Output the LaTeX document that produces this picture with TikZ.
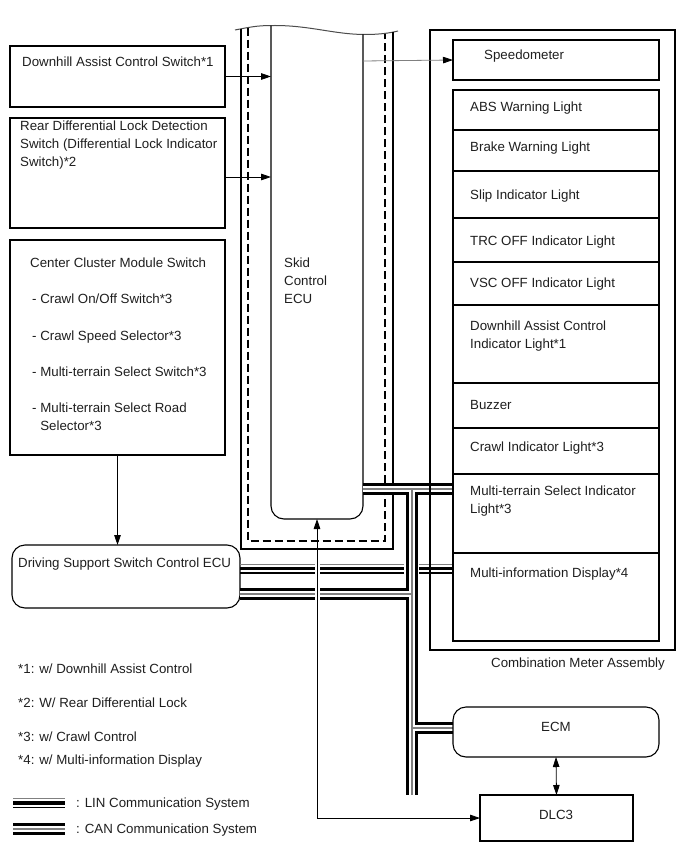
\documentclass[tikz,border=0pt]{standalone}
\usepackage{fontspec}
\setmainfont{Liberation Sans}
\usetikzlibrary{arrows.meta}
\newcommand\fs{\fontsize{13.3}{18}\selectfont}
\begin{document}
\begin{tikzpicture}[x=1pt,y=-1pt,
  box/.style={draw=black, line width=1.1pt, inner sep=0pt, outer sep=0pt, anchor=north west},
  rbox/.style={box, rounded corners=13pt},
  txt/.style={anchor=north west, inner sep=0pt, align=left, font=\fs, text=black!88},
  ctxt/.style={txt, anchor=north, align=center},
  arr/.style={line width=0.8pt, -{Triangle[length=10pt,width=6.5pt]}},
  darr/.style={line width=0.8pt, {Triangle[length=10pt,width=6.5pt]}-{Triangle[length=10pt,width=6.5pt]}},
  eculine/.style={line width=1.1pt},
]
\fill[white] (0,0) rectangle (689,853);
\useasboundingbox (0,0) rectangle (689,853);

% ---- Skid Control ECU (cut-away) ----
\draw[line width=1pt, black!70] (235,30) .. controls (255,26) and (260,25.5) .. (275,25.5)
   .. controls (310,25.5) and (335,34.5) .. (365,34.5) .. controls (380,34.5) and (390,33) .. (398,31);
\draw[eculine] (241,29) |- (393,549) -- (393,32);
\draw[eculine, dash pattern=on 8pt off 4pt] (248,27.6) |- (385,541) -- (385,33.6);
\draw[eculine, rounded corners=13pt] (271,25.6) |- (363,519) -- (363,34.5);
\coordinate (ecuL1) at (271,76.5);
\coordinate (ecuL2) at (271,177);
\coordinate (ecuR1) at (363,61);
\coordinate (ecuR2) at (363,489);
\coordinate (ecuB) at (317,519);
\node[txt] (skid) at (284,255) {\strut Skid\\Control\\ECU};

% ---- left boxes ----
\node[box, minimum width=215pt, minimum height=61pt] (b1) at (10,46) {};
\node[box, minimum width=215pt, minimum height=110pt] (b2) at (10,118) {};
\node[box, minimum width=215pt, minimum height=215pt] (b3) at (10,240) {};
\node[rbox, minimum width=228pt, minimum height=63pt] (dss) at (12,545) {};

\node[txt] (t1) at (22,54) {\strut Downhill Assist Control Switch*1};
\node[txt] (t2) at (20,118) {\strut Rear Differential Lock Detection\\Switch (Differential Lock Indicator\\Switch)*2};
\node[txt] (t3) at (30,255) {\strut Center Cluster Module Switch};
\node[txt] (t4) at (32,291) {\strut - Crawl On/Off Switch*3};
\node[txt] (t5) at (32,328) {\strut - Crawl Speed Selector*3};
\node[txt] (t6) at (32,364) {\strut - Multi-terrain Select Switch*3};
\node[txt] (t7) at (32,400) {\strut - Multi-terrain Select Road\\\phantom{- }Selector*3};
\node[txt] (t8) at (18,555) {\strut Driving Support Switch Control ECU};

% ---- buses ----
% LIN
\draw[gray, line width=1.3pt] (dss.east |- 0,564.5) -- (453,564.5);
\draw[black, line width=3.6pt] (dss.east |- 0,568.5) -- (453,568.5);
\draw[black, line width=1.2pt] (dss.east |- 0,573) -- (453,573);
\fill[white] (404,560) rectangle (419,577);
% CAN
\coordinate (j1) at (412,489);
\coordinate (j2) at (412,594);
\coordinate (j3) at (412,728);
\coordinate (jend) at (412,795);
\foreach \w/\c in {11.5/black,5.5/white,1.4/gray}
  \draw[line width=\w pt, draw=\c] (ecuR2) -- (453,489) (j1) -- (jend) (j2) -- (dss.east |- j2) (j3) -- (453,728);

% crossing gaps for the vertical link
\draw[white, line width=5pt] (317,559) -- (317,605);
\draw[darr] (ecuB) -- (317,818) -- (480,818);

% ---- Combination meter ----
\node[box, minimum width=245pt, minimum height=620pt] (meter) at (430,30) {};
\node[box, minimum width=206pt, minimum height=40pt] (speedo) at (453,40) {};
\node[txt] at (484,47) {\strut Speedometer};
\foreach \n/\a/\b in {abs/90/130, brake/130/171, slip/171/218, trc/218/262, vsc/262/305,
  dac/305/383, buzz/383/428, crawl/428/474, mts/474/553, mid/553/641}
  \node[box, minimum width=206pt, minimum height={(\b-\a)*1pt}] (\n) at (453,\a) {};
\node[txt] at (470,99) {\strut ABS Warning Light};
\node[txt] at (470,139) {\strut Brake Warning Light};
\node[txt] at (470,187) {\strut Slip Indicator Light};
\node[txt] at (470,233) {\strut TRC OFF Indicator Light};
\node[txt] at (470,275) {\strut VSC OFF Indicator Light};
\node[txt] at (470,318) {\strut Downhill Assist Control\\Indicator Light*1};
\node[txt] at (470,397) {\strut Buzzer};
\node[txt] at (470,439) {\strut Crawl Indicator Light*3};
\node[txt] at (470,483) {\strut Multi-terrain Select Indicator\\Light*3};
\node[txt] at (470,565) {\strut Multi-information Display*4};
\node[ctxt] (cma) at (578,655) {\strut Combination Meter Assembly};

% ---- ECM / DLC3 ----
\node[rbox, minimum width=206pt, minimum height=50pt] (ecm) at (453,707) {};
\node[ctxt] at (556,719) {\strut ECM};
\node[box, minimum width=153pt, minimum height=46pt] (dlc) at (480,795) {};
\node[ctxt] at (556,807) {\strut DLC3};
\draw[darr] (ecm.south) -- (dlc.north);

% ---- arrows ----
\draw[arr] (b1.east |- ecuL1) -- (ecuL1);
\draw[arr] (b2.east |- ecuL2) -- (ecuL2);
\draw[arr] (b3.south) -- (b3.south |- dss.north);
\draw[line width=0.8pt, gray, -{Triangle[length=10pt,width=6.5pt,color=black]}] (ecuR1) -- (speedo.west);

% ---- footnotes ----
\node[txt] at (18,661) {\strut *1: w/ Downhill Assist Control};
\node[txt] at (18,695) {\strut *2: W/ Rear Differential Lock};
\node[txt] at (18,729) {\strut *3: w/ Crawl Control};
\node[txt] at (18,752) {\strut *4: w/ Multi-information Display};

% ---- legend ----
\coordinate (l1a) at (13,803); \coordinate (l1b) at (65,803);
\coordinate (l2a) at (13,829); \coordinate (l2b) at (65,829);
\draw[black, line width=1.2pt] ([yshift=-4.5pt]l1a) -- ([yshift=-4.5pt]l1b);
\draw[black, line width=3.6pt] (l1a) -- (l1b);
\draw[gray, line width=1.3pt] ([yshift=4.5pt]l1a) -- ([yshift=4.5pt]l1b);
\foreach \w/\c in {11.5/black,5.5/white,1.4/gray}
  \draw[line width=\w pt, draw=\c] (l2a) -- (l2b);
\node[txt] at (76,795) {\strut : LIN Communication System};
\node[txt] at (76,821) {\strut : CAN Communication System};
\end{tikzpicture}
\end{document}
